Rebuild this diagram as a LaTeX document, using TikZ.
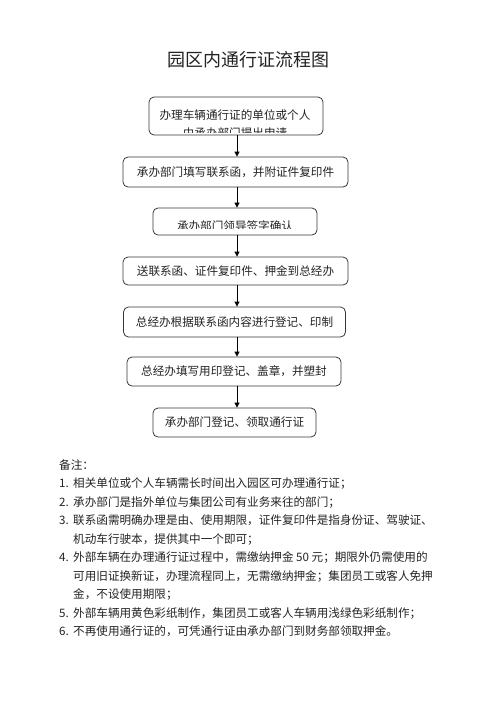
\documentclass[tikz,border=0pt]{standalone}
\usepackage{fontspec}
\setmainfont{Noto Sans CJK SC}
\usepackage{tikz}
\usetikzlibrary{arrows.meta, calc}
\definecolor{mydark}{RGB}{35,35,35}
\definecolor{myframe}{RGB}{55,55,55}
\tikzset{
  stepbox/.style={rectangle, draw=myframe, fill=white,
    rounded corners=5pt, line width=0.8pt, inner sep=0pt,
    font=\fontsize{11.6}{14}\selectfont, text=mydark},
  boxtext/.style={font=\fontsize{11.6}{18}\selectfont, text=mydark,
    align=center, inner sep=0pt},
  notetext/.style={font=\fontsize{11.6}{14}\selectfont, text=mydark,
    anchor=base west, inner sep=0pt},
  arrow/.style={-{Triangle[length=5pt, width=5pt]}, line width=0.8pt, color=black}
}
\begin{document}
\begin{tikzpicture}[x=1pt, y=-1pt]
  \useasboundingbox (0,0) rectangle (496,702);
  % ── Title ──────────────────────────────────────────────────────────────────
  \node[font=\fontsize{18}{20}\selectfont, text=mydark] (title) at (248,60) {园区内通行证流程图};

  % ── Flow steps ─────────────────────────────────────────────────────────────
  \node[stepbox, minimum width=174pt, minimum height=38pt] (apply) at (236,116) {};
  \begin{scope}
    % second line cut by the frame
    \clip ([yshift=-1pt]apply.north west) rectangle ([yshift=3pt]apply.south east);
    \node[boxtext] (applytext) at (235,124) {办理车辆通行证的单位或个人\\由承办部门提出申请};
  \end{scope}
  \node[stepbox, minimum width=225pt, minimum height=30pt] (form) at (235.5,172) {承办部门填写联系函，并附证件复印件};
  \node[stepbox, minimum width=164pt, minimum height=27pt] (leader) at (235,221.5) {};
  \begin{scope}
    % text sits low and is cut
    \clip ([yshift=-1pt]leader.north west) rectangle ([yshift=6.5pt]leader.south east);
    \node[boxtext] (leadertext) at (235,226.5) {承办部门领导签字确认};
  \end{scope}
  \node[stepbox, minimum width=225pt, minimum height=28pt] (send) at (235.5,271) {送联系函、证件复印件、押金到总经办};
  \node[stepbox, minimum width=222pt, minimum height=30pt] (record) at (234.5,322) {总经办根据联系函内容进行登记、印制};
  \node[stepbox, minimum width=214pt, minimum height=29pt] (seal) at (234,371.5) {总经办填写用印登记、盖章，并塑封};
  \node[stepbox, minimum width=163pt, minimum height=29pt] (fetch) at (234.5,422.5) {承办部门登记、领取通行证};

  % ── Arrows ─────────────────────────────────────────────────────────────────
  \draw[arrow] ([xshift=1pt]apply.south) -- ([xshift=1pt]apply.south |- form.north);
  \draw[arrow] ([xshift=1.5pt]form.south) -- ([xshift=1.5pt]form.south |- leader.north);
  \draw[arrow] ([xshift=2pt]leader.south) -- ([xshift=2pt]leader.south |- send.north);
  \draw[arrow] ([xshift=1.5pt]send.south) -- ([xshift=1.5pt]send.south |- record.north);
  \draw[arrow] ([xshift=2.5pt]record.south) -- ([xshift=2.5pt]record.south |- seal.north);
  \draw[arrow] ([xshift=3pt]seal.south) -- ([xshift=3pt]seal.south |- fetch.north);

  % ── Notes ──────────────────────────────────────────────────────────────────
  \node[notetext] (notehead) at (59,469) {备注：};
  \foreach \y/\num/\txt [count=\i] in {
      487.5/1./相关单位或个人车辆需长时间出入园区可办理通行证；,
      506/2./承办部门是指外单位与集团公司有业务来往的部门；,
      524.5/3./联系函需明确办理是由、使用期限，证件复印件是指身份证、驾驶证、,
      543/{}/机动车行驶本，提供其中一个即可；,
      561.5/4./外部车辆在办理通行证过程中，需缴纳押金 50 元；期限外仍需使用的,
      580/{}/可用旧证换新证，办理流程同上，无需缴纳押金；集团员工或客人免押,
      598.5/{}/金，不设使用期限；,
      617/5./外部车辆用黄色彩纸制作，集团员工或客人车辆用浅绿色彩纸制作；,
      635.5/6./不再使用通行证的，可凭通行证由承办部门到财务部领取押金。} {
    \node[notetext] (num\i) at (59,\y) {\num};
    \node[notetext] (note\i) at (73,\y) {\txt};
  }
\end{tikzpicture}
\end{document}
